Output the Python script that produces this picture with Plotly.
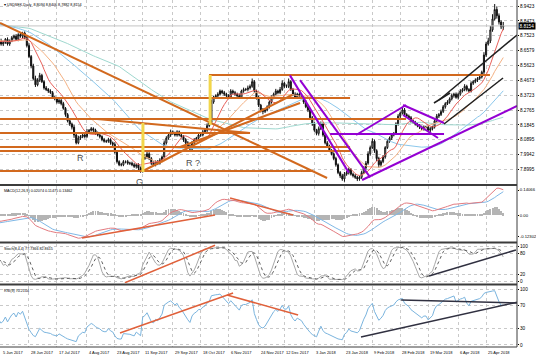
import numpy as np
import pandas as pd
import plotly.graph_objects as go
from plotly.subplots import make_subplots

# ---------------- data ----------------
chart_title = "\u25be USDSEK,Daily  8.8094 8.8406 8.7882 8.8154"
macd_title = "MACD(12,26,9) 0.02074 0.11475 0.13462"
stoch_title = "Stoch(8,4,4) 77.7366 82.8615"
rsi_title = "RSI(9) 70.2104"
last_price = 8.8154

# closes before the visible window (only used to warm up the indicators)
pre_close = [8.95, 8.97, 8.94, 8.96, 8.98, 8.95, 8.93, 8.90, 8.92, 8.89,
             8.86, 8.88, 8.91, 8.93, 8.90, 8.87, 8.85, 8.88, 8.90, 8.93,
             8.95, 8.92, 8.88, 8.82, 8.76, 8.74, 8.72, 8.70, 8.73, 8.71,
             8.74, 8.76, 8.73, 8.70, 8.68, 8.70, 8.72, 8.74, 8.71, 8.72]

close = [8.71, 8.73, 8.72, 8.72, 8.70, 8.71, 8.73, 8.70, 8.72, 8.74,
         8.75, 8.73, 8.76, 8.75, 8.77, 8.74, 8.69, 8.62, 8.56, 8.48,
         8.44, 8.47, 8.50, 8.46, 8.42, 8.41, 8.40, 8.39, 8.36, 8.35,
         8.33, 8.34, 8.32, 8.29, 8.25, 8.21, 8.19, 8.17, 8.12, 8.07,
         8.10, 8.11, 8.12, 8.11, 8.14, 8.15, 8.16, 8.15, 8.13, 8.12,
         8.11, 8.09, 8.08, 8.08, 8.09, 8.07, 8.06, 8.01, 7.95, 7.93,
         7.93, 7.95, 7.95, 7.94, 7.94, 7.93, 7.92, 7.93, 7.91, 7.89,
         7.97, 7.98, 8.00, 7.97, 7.94, 7.93, 7.95, 7.94, 7.96, 7.98,
         8.07, 8.10, 8.12, 8.14, 8.13, 8.12, 8.14, 8.12, 8.11, 8.09,
         8.07, 8.05, 8.03, 8.07, 8.09, 8.10, 8.12, 8.12, 8.14, 8.15,
         8.18, 8.20, 8.33, 8.36, 8.37, 8.38, 8.40, 8.39, 8.38, 8.37,
         8.36, 8.40, 8.39, 8.38, 8.37, 8.36, 8.40, 8.41, 8.41, 8.42,
         8.43, 8.46, 8.40, 8.36, 8.31, 8.28, 8.27, 8.28, 8.30, 8.33,
         8.36, 8.38, 8.40, 8.39, 8.41, 8.45, 8.43, 8.43, 8.46, 8.41,
         8.38, 8.36, 8.38, 8.37, 8.36, 8.33, 8.30, 8.28, 8.23, 8.19,
         8.15, 8.13, 8.16, 8.19, 8.12, 8.07, 8.05, 8.02, 8.00, 7.97,
         7.93, 7.88, 7.86, 7.84, 7.87, 7.88, 7.90, 7.87, 7.86, 7.85,
         7.84, 7.85, 7.88, 7.91, 7.94, 8.00, 8.04, 8.08, 8.02, 7.97,
         7.93, 7.95, 7.98, 8.04, 8.08, 8.10, 8.12, 8.13, 8.19, 8.24,
         8.26, 8.28, 8.25, 8.24, 8.23, 8.21, 8.20, 8.19, 8.18, 8.17,
         8.16, 8.17, 8.17, 8.15, 8.16, 8.17, 8.21, 8.24, 8.25, 8.27,
         8.30, 8.32, 8.33, 8.35, 8.37, 8.38, 8.36, 8.38, 8.40, 8.41,
         8.43, 8.41, 8.40, 8.45, 8.46, 8.47, 8.48, 8.49, 8.52, 8.63,
         8.70, 8.72, 8.79, 8.86, 8.92, 8.88, 8.84, 8.8094, 8.8154]

# wick lengths above / below the candle body, in thousandths
wick_hi = [10, 8, 12, 9, 14, 10, 8, 12, 9, 11, 10, 13, 9, 12, 8, 10, 12, 15, 10, 14,
           18, 12, 16, 10, 8, 12, 9, 11, 10, 8, 12, 10, 9, 11, 8, 10, 12, 9, 14, 10,
           15, 9, 12, 10, 18, 8, 11, 9, 10, 12, 9, 8, 11, 10, 12, 9, 8, 14, 10, 9,
           12, 10, 8, 11, 9, 10, 12, 8, 10, 9, 14, 18, 12, 10, 9, 11, 8, 10, 12, 9,
           15, 12, 10, 14, 9, 11, 10, 8, 12, 9, 10, 11, 9, 12, 10, 8, 11, 9, 12, 10,
           14, 12, 16, 10, 9, 12, 10, 8, 11, 9, 10, 12, 9, 11, 10, 14, 9, 12, 10, 15,
           12, 20, 10, 9, 11, 8, 12, 10, 9, 11, 12, 10, 14, 9, 16, 18, 10, 12, 20, 9,
           10, 12, 9, 11, 10, 8, 12, 9, 10, 11, 12, 9, 14, 16, 10, 9, 11, 8, 10, 9,
           11, 9, 10, 12, 14, 10, 12, 9, 10, 11, 9, 10, 12, 11, 14, 16, 12, 18, 10, 9,
           11, 10, 12, 9, 14, 10, 12, 9, 11, 13, 10, 14, 12, 9, 10, 11, 9, 10, 12, 9,
           10, 11, 9, 12, 10, 9, 11, 14, 10, 12, 11, 9, 12, 10, 14, 9, 11, 10, 12, 9,
           14, 10, 9, 12, 10, 11, 9, 12, 10, 18, 14, 20, 25, 30, 35, 20, 15, 12, 25]
wick_lo = [9, 12, 10, 8, 11, 13, 9, 10, 12, 8, 11, 9, 12, 10, 14, 9, 12, 10, 15, 12,
           14, 10, 12, 9, 11, 10, 12, 8, 10, 9, 10, 12, 11, 9, 14, 10, 12, 15, 18, 10,
           9, 11, 10, 12, 9, 10, 8, 11, 10, 9, 12, 10, 9, 11, 10, 12, 14, 10, 12, 9,
           10, 9, 11, 10, 12, 9, 10, 14, 16, 11, 10, 9, 12, 10, 11, 9, 10, 12, 9, 10,
           9, 11, 10, 12, 9, 10, 11, 9, 12, 14, 16, 12, 18, 10, 9, 11, 10, 12, 9, 10,
           12, 10, 9, 11, 10, 12, 9, 10, 11, 9, 12, 10, 11, 9, 12, 10, 9, 11, 10, 12,
           10, 9, 11, 14, 12, 16, 18, 10, 9, 11, 10, 12, 9, 11, 10, 9, 12, 10, 11, 9,
           12, 10, 9, 11, 10, 12, 9, 14, 10, 12, 10, 12, 14, 9, 11, 10, 12, 9, 10, 11,
           12, 10, 14, 12, 18, 10, 12, 9, 11, 10, 14, 12, 10, 9, 11, 10, 12, 9, 14, 16,
           18, 12, 10, 11, 9, 10, 12, 9, 10, 11, 12, 10, 9, 11, 10, 12, 9, 10, 11, 12,
           10, 12, 9, 10, 14, 11, 9, 10, 12, 9, 10, 12, 9, 11, 10, 12, 9, 14, 10, 9,
           11, 12, 10, 9, 11, 10, 12, 9, 10, 11, 12, 10, 14, 12, 10, 18, 16, 14, 21]

no_bar_days = ["2017-12-25", "2018-01-01"]
first_date_label = "5 Jun 2017"
tick_dates = ["2017-06-28", "2017-07-17", "2017-08-04", "2017-08-23", "2017-09-11",
              "2017-09-29", "2017-10-18", "2017-11-06", "2017-11-24", "2017-12-12",
              "2018-01-03", "2018-01-23", "2018-02-09", "2018-02-28", "2018-03-19",
              "2018-04-06", "2018-04-25"]

price_ticks = [8.9423, 8.8473, 8.7523, 8.6579, 8.5623, 8.4673, 8.3723,
               8.2765, 8.1845, 8.0895, 7.9942, 7.8995, 7.8042]
macd_ticks = [0.14066, 0.0, -0.12302]
macd_tick_text = ["0.14066", "0.00", "-0.12302"]
stoch_ticks = [100, 80, 20, 0]
rsi_ticks = [100, 70, 30, 0]

# chart objects drawn on the chart: (bar0, value0, bar1, value1)
brown_lines = [
    (100.9, 8.5023, 231.8, 8.5023), (3.5, 8.3557, 166.6, 8.3557),
    (3.5, 8.2218, 192.7, 8.2218), (3.5, 8.1326, 120.0, 8.1326),
    (3.5, 8.0433, 166.6, 8.0433), (3.5, 8.0178, 166.6, 8.0178),
    (3.5, 7.8903, 149.3, 7.8903),
    (3.5, 8.8339, 155.9, 7.8457), (48.7, 8.2218, 120.0, 8.1326),
    (70.1, 7.8903, 139.6, 8.3748), (87.4, 8.0433, 143.3, 8.3238),
]
purple_lines = [
    (138.6, 8.5000, 166.0, 7.8800), (143.3, 8.4700, 176.0, 7.8500),
    (172.2, 7.8329, 244.4, 8.3047), (157.3, 8.1262, 210.4, 8.1262),
    (169.4, 8.1198, 192.7, 8.3111), (191.3, 8.3111, 210.4, 8.1963),
    (191.3, 8.2473, 207.6, 8.1007),
]
black_lines = [
    (208.1, 8.3430, 244.4, 8.7574), (210.4, 8.1899, 237.9, 8.4832),
    (205.7, 8.3238, 213.2, 8.3876),
]
yellow_lines = [(70.1, 8.1963, 70.1, 7.8839), (101.4, 8.5023, 101.4, 8.1836)]
chart_texts = [(40.8, 7.9732, "R"), (68.7, 7.8202, "G"), (93.4, 7.9413, "R ?")]
macd_lines = [(41.7, -0.1286, 103.7, 0.0004, "#e0603a"), (110.7, 0.0958, 140.0, 0.0004, "#e0603a")]
stoch_lines = [(61.7, -5.0, 103.7, 102.0, "#e0603a"), (203.4, 14.3, 243.9, 88.6, "#303040")]
rsi_lines = [(59.4, 21.4, 112.1, 92.9, "#e0603a"), (109.3, 89.3, 142.4, 53.6, "#e0603a"),
             (190.4, 80.4, 244.9, 75.0, "#303040"), (171.7, 14.3, 244.9, 76.8, "#303040")]

# ---------------- series ----------------
n = len(close)
npre = len(pre_close)
days = pd.bdate_range("2017-06-05", "2018-07-31")
days = days[~days.isin(pd.to_datetime(no_bar_days))][:n]
idx = np.arange(n)

all_close = np.array(pre_close + close, dtype=float)
all_open = np.r_[all_close[0], all_close[:-1]]
wh = np.r_[np.zeros(npre), np.array(wick_hi) / 1000.0]
wl = np.r_[np.zeros(npre), np.array(wick_lo) / 1000.0]
all_high = np.maximum(all_open, all_close) + wh
all_low = np.minimum(all_open, all_close) - wl
s = pd.Series(all_close)

ma_specs = [(100, "#9fd8cf"), (50, "#8cc8ec"), (21, "#f4b183"), (10, "#e8605a")]
mas = {p: s.rolling(p, min_periods=1).mean().values[npre:] for p, _ in ma_specs}

ema12 = s.ewm(span=12, adjust=False).mean()
ema26 = s.ewm(span=26, adjust=False).mean()
macd = ema12 - ema26
sig = macd.rolling(9, min_periods=1).mean()
hist = (macd - sig)

hh = pd.Series(all_high).rolling(8, min_periods=1).max()
ll = pd.Series(all_low).rolling(8, min_periods=1).min()
k = 100 * (s - ll).rolling(4, min_periods=1).sum() / (hh - ll).rolling(4, min_periods=1).sum()
d = k.rolling(4, min_periods=1).mean()

delta = s.diff().fillna(0)
up = delta.clip(lower=0).ewm(alpha=1 / 9, adjust=False).mean()
dn = (-delta.clip(upper=0)).ewm(alpha=1 / 9, adjust=False).mean()
rsi = 100 - 100 / (1 + up / dn.replace(0, np.nan))
rsi = rsi.fillna(50)

sl = slice(npre, None)

# ---------------- figure ----------------
fig = make_subplots(rows=4, cols=1, shared_xaxes=True, vertical_spacing=0)

fig.add_trace(go.Candlestick(
    x=idx, open=all_open[sl], high=all_high[sl], low=all_low[sl], close=all_close[sl],
    increasing=dict(line=dict(color="#111111", width=1), fillcolor="#ffffff"),
    decreasing=dict(line=dict(color="#111111", width=1), fillcolor="#111111"),
    whiskerwidth=0, hoverinfo="skip"), row=1, col=1)
for p, col in ma_specs:
    fig.add_trace(go.Scatter(x=idx, y=mas[p], mode="lines",
                             line=dict(color=col, width=1)), row=1, col=1)

fig.add_trace(go.Bar(x=idx, y=hist.values[sl], marker_color="#b4b4b4",
                     marker_line_width=0, width=0.45), row=2, col=1)
fig.add_trace(go.Scatter(x=idx, y=sig.values[sl], mode="lines",
                         line=dict(color="#7fb8e6", width=1)), row=2, col=1)
fig.add_trace(go.Scatter(x=idx, y=macd.values[sl], mode="lines",
                         line=dict(color="#e37b80", width=1)), row=2, col=1)

fig.add_trace(go.Scatter(x=idx, y=k.values[sl], mode="lines",
                         line=dict(color="#a8a8a8", width=1)), row=3, col=1)
fig.add_trace(go.Scatter(x=idx, y=d.values[sl], mode="lines",
                         line=dict(color="#606060", width=1, dash="dot")), row=3, col=1)

fig.add_trace(go.Scatter(x=idx, y=rsi.values[sl], mode="lines",
                         line=dict(color="#7ab4de", width=1)), row=4, col=1)

# layout geometry (pixels of the 536x357 picture)
H_PLOT = 347.0
def frac(ypx):
    return 1 - ypx / H_PLOT

tick_idx = [int(np.searchsorted(days, pd.Timestamp(t))) for t in tick_dates]
x_range = [3.49, 244.4]
grid = dict(showgrid=True, gridcolor="#c9c9c9", griddash="dot", gridwidth=1)
axis_font = dict(family="Liberation Sans, Arial", size=4.7, color="#000000")
macd_font = dict(family="Liberation Sans, Arial", size=4.2, color="#000000")

fig.update_layout(
    width=536, height=357, template="none",
    margin=dict(l=0, r=19, t=0, b=10),
    paper_bgcolor="#ffffff", plot_bgcolor="#ffffff",
    showlegend=False, bargap=0,
    font=dict(family="Liberation Sans, Arial", size=5, color="#000000"),
)
for i in range(1, 5):
    nm = "xaxis" if i == 1 else f"xaxis{i}"
    fig.layout[nm].update(range=x_range, tickvals=tick_idx, showticklabels=False,
                          zeroline=False, showline=False, ticks="", automargin=False,
                          rangeslider=dict(visible=False), **grid)

ytick = dict(side="right", ticks="outside", ticklen=1, tickcolor="#000",
             zeroline=False, automargin=False)
fig.update_layout(
    yaxis=dict(domain=[frac(184), 1.0], range=[7.8074, 8.9806],
               tickvals=price_ticks, ticktext=[f"{v:.4f}" for v in price_ticks],
               tickfont=axis_font, **ytick, **grid),
    yaxis2=dict(domain=[frac(241), frac(186)], range=[-0.1455, 0.1631],
                tickvals=macd_ticks, ticktext=macd_tick_text, showgrid=False,
                tickfont=macd_font, **ytick),
    yaxis3=dict(domain=[frac(283), frac(244)], range=[-5.7, 105.7],
                tickvals=stoch_ticks, tickfont=axis_font, **ytick, **grid),
    yaxis4=dict(domain=[0.0, frac(286)], range=[-3.6, 105.4],
                tickvals=rsi_ticks, tickfont=axis_font, **ytick, **grid),
)

shapes = []
def seg(x0, y0, x1, y1, color, width, xr="x", yr="y", dash=None):
    ln = dict(color=color, width=width)
    if dash:
        ln["dash"] = dash
    shapes.append(dict(type="line", xref=xr, yref=yr, x0=x0, y0=y0, x1=x1, y1=y1,
                       line=ln, layer="above"))

# bid line
seg(0, last_price, 1, last_price, "#c4c4c4", 1, xr="paper")
for x0, y0, x1, y1 in brown_lines:
    seg(x0, y0, x1, y1, "#d2691e", 2)
for x0, y0, x1, y1 in purple_lines:
    seg(x0, y0, x1, y1, "#9400d3", 2)
for x0, y0, x1, y1 in black_lines:
    seg(x0, y0, x1, y1, "#202020", 1.5)
for x0, y0, x1, y1 in yellow_lines:
    seg(x0, y0, x1, y1, "#f2d64b", 3)
for x0, y0, x1, y1, c in macd_lines:
    seg(x0, y0, x1, y1, c, 1.5, xr="x2", yr="y2")
for x0, y0, x1, y1, c in stoch_lines:
    seg(x0, y0, x1, y1, c, 1.5, xr="x3", yr="y3")
for x0, y0, x1, y1, c in rsi_lines:
    seg(x0, y0, x1, y1, c, 1.5, xr="x4", yr="y4")

# panel separators and frame
for ypx in (185, 242.5, 284.5):
    shapes.append(dict(type="line", xref="paper", yref="paper", x0=0, x1=1,
                       y0=frac(ypx), y1=frac(ypx), line=dict(color="#3c3c3c", width=2)))
shapes.append(dict(type="line", xref="paper", yref="paper", x0=1, x1=1, y0=0, y1=1,
                   line=dict(color="#3c3c3c", width=1)))
shapes.append(dict(type="line", xref="paper", yref="paper", x0=0, x1=1, y0=0, y1=0,
                   line=dict(color="#3c3c3c", width=1)))
fig.update_layout(shapes=shapes)

ann = []
small = dict(family="Liberation Sans, Arial", size=4, color="#000000")
tiny = dict(family="Liberation Sans, Arial", size=3.7, color="#000000")
for txt, ypx in ((chart_title, 1), (macd_title, 187), (stoch_title, 245), (rsi_title, 287)):
    ann.append(dict(text=txt, xref="paper", yref="paper", x=0.004, y=frac(ypx),
                    xanchor="left", yanchor="top", showarrow=False, font=tiny))
for xi, yv, txt in chart_texts:
    ann.append(dict(text=txt, xref="x", yref="y", x=xi, y=yv, showarrow=False,
                    font=dict(family="Liberation Sans, Arial", size=9, color="#505050")))
ann.append(dict(text=first_date_label, xref="paper", yref="paper", x=0.002, y=0,
                xanchor="left", yanchor="top", showarrow=False, font=small, yshift=-1))
for t, ti in zip(tick_dates, tick_idx):
    dt = pd.Timestamp(t)
    ann.append(dict(text=f"{dt.day} {dt:%b %Y}", xref="x4", yref="paper", x=ti, y=0,
                    xanchor="left", yanchor="top", showarrow=False, font=small, yshift=-1))
ann.append(dict(text=f"{last_price:.4f}", xref="paper", yref="y", x=1, y=last_price,
                xanchor="left", yanchor="middle", showarrow=False, bgcolor="#000000",
                font=dict(family="Liberation Sans, Arial", size=4.7, color="#ffffff"),
                borderpad=0.5, xshift=1))
fig.update_layout(annotations=ann)

fig.write_html("out.html", config={"displayModeBar": False},
               post_script="document.body.style.margin='0';document.body.style.padding='0';")
